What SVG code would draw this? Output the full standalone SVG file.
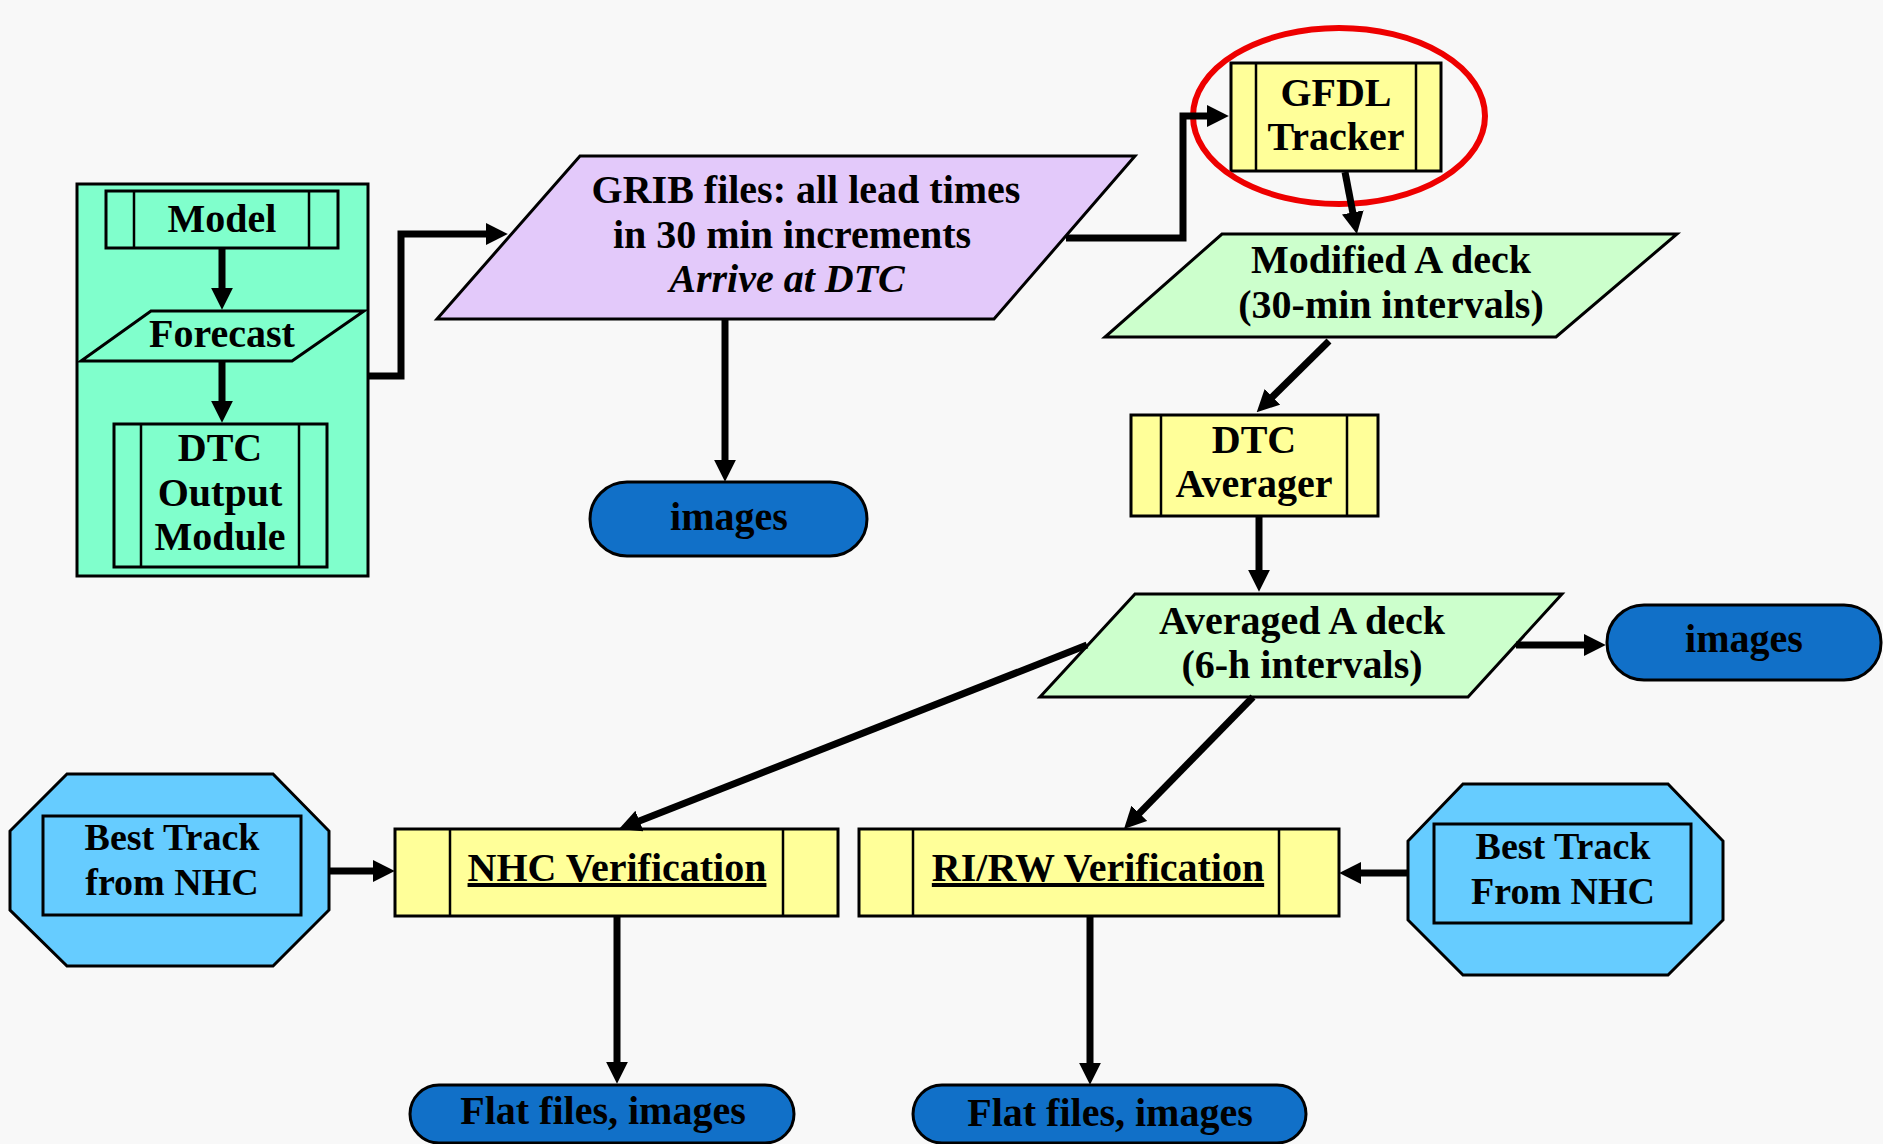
<svg xmlns="http://www.w3.org/2000/svg" width="1883" height="1144" viewBox="0 0 1883 1144">
<style>
  .t { font-family: "Liberation Serif", "Times New Roman", serif; font-weight: bold; font-size: 40px; fill: #000; text-anchor: middle; }
  .bt { font-size: 38px; }
  .it { font-style: italic; }
  .u { text-decoration: underline; }
  .box { stroke: #000; stroke-width: 3; }
  .ln { stroke: #000; stroke-width: 2.5; fill: none; }
  .aqua { fill: #80ffcc; }
  .yel { fill: #ffff99; }
  .lav { fill: #e3c9fa; }
  .grn { fill: #ccffcc; }
  .lblue { fill: #66ccff; }
  .dblue { fill: #1170c8; }
  .conn { stroke: #000; stroke-width: 7; fill: none; marker-end: url(#ah); }
</style>
<defs>
  <marker id="ah" viewBox="0 0 10 10" refX="1" refY="5" markerWidth="22" markerHeight="22" markerUnits="userSpaceOnUse" orient="auto">
    <path d="M0,0 L10,5 L0,10 z" fill="#000"/>
  </marker>
</defs>
<rect x="0" y="0" width="1883" height="1144" fill="#f8f8f8"/>

<g id="container">
  <rect class="box aqua" x="77" y="184" width="291" height="392"/>
</g>
<g id="model">
  <rect class="box aqua" x="106" y="191" width="232" height="57"/>
  <line class="ln" x1="134" y1="191" x2="134" y2="248"/>
  <line class="ln" x1="309" y1="191" x2="309" y2="248"/>
  <text class="t" x="222" y="232">Model</text>
</g>
<g id="forecast">
  <polygon class="box aqua" points="151,311 364,311 292,361 81,361"/>
  <text class="t" x="222" y="347">Forecast</text>
</g>
<g id="dtc-output">
  <rect class="box aqua" x="114" y="424" width="213" height="143"/>
  <line class="ln" x1="141" y1="424" x2="141" y2="567"/>
  <line class="ln" x1="299" y1="424" x2="299" y2="567"/>
  <text class="t" x="220" y="461">DTC</text>
  <text class="t" x="220" y="506">Output</text>
  <text class="t" x="220" y="550">Module</text>
</g>
<g id="grib">
  <polygon class="box lav" points="580,156 1135,156 994,319 437,319"/>
  <text class="t" x="806" y="203">GRIB files: all lead times</text>
  <text class="t" x="792" y="248">in 30 min increments</text>
  <text class="t it" x="787" y="292">Arrive at DTC</text>
</g>
<g id="images1">
  <rect class="box dblue" x="590" y="482" width="277" height="74" rx="37" ry="37"/>
  <text class="t" x="729" y="530">images</text>
</g>
<g id="gfdl">
  <rect class="box yel" x="1231" y="63" width="210" height="108"/>
  <line class="ln" x1="1256" y1="63" x2="1256" y2="171"/>
  <line class="ln" x1="1416" y1="63" x2="1416" y2="171"/>
  <text class="t" x="1336" y="106">GFDL</text>
  <text class="t" x="1336" y="150">Tracker</text>
</g>
<g id="highlight">
  <ellipse cx="1339" cy="116" rx="146" ry="88" fill="none" stroke="#ee0000" stroke-width="6"/>
</g>
<g id="modified">
  <polygon class="box grn" points="1222,234 1677,234 1556,337 1105,337"/>
  <text class="t" x="1391" y="273">Modified A deck</text>
  <text class="t" x="1391" y="318">(30-min intervals)</text>
</g>
<g id="averager">
  <rect class="box yel" x="1131" y="415" width="247" height="101"/>
  <line class="ln" x1="1161" y1="415" x2="1161" y2="516"/>
  <line class="ln" x1="1347" y1="415" x2="1347" y2="516"/>
  <text class="t" x="1254" y="453">DTC</text>
  <text class="t" x="1254" y="497">Averager</text>
</g>
<g id="averaged">
  <polygon class="box grn" points="1135,594 1562,594 1468,697 1040,697"/>
  <text class="t" x="1302" y="634">Averaged A deck</text>
  <text class="t" x="1302" y="678">(6-h intervals)</text>
</g>
<g id="images2">
  <rect class="box dblue" x="1607" y="605" width="274" height="75" rx="37" ry="37"/>
  <text class="t" x="1744" y="652">images</text>
</g>
<g id="besttrack-left">
  <polygon class="box lblue" points="67,774 273,774 329,831 329,910 273,966 67,966 10,910 10,831"/>
  <rect class="box lblue" x="43" y="816" width="258" height="99"/>
  <text class="t bt" x="172" y="850">Best Track</text>
  <text class="t bt" x="172" y="895">from NHC</text>
</g>
<g id="nhc-verif">
  <rect class="box yel" x="395" y="829" width="443" height="87"/>
  <line class="ln" x1="450" y1="829" x2="450" y2="916"/>
  <line class="ln" x1="783" y1="829" x2="783" y2="916"/>
  <text class="t u" x="617" y="881">NHC Verification</text>
</g>
<g id="rirw-verif">
  <rect class="box yel" x="859" y="829" width="480" height="87"/>
  <line class="ln" x1="913" y1="829" x2="913" y2="916"/>
  <line class="ln" x1="1279" y1="829" x2="1279" y2="916"/>
  <text class="t u" x="1098" y="881">RI/RW Verification</text>
</g>
<g id="besttrack-right">
  <polygon class="box lblue" points="1463,784 1668,784 1723,841 1723,920 1668,975 1463,975 1408,920 1408,841"/>
  <rect class="box lblue" x="1434" y="824" width="257" height="99"/>
  <text class="t bt" x="1563" y="859">Best Track</text>
  <text class="t bt" x="1563" y="904">From NHC</text>
</g>
<g id="flat1">
  <rect class="box dblue" x="410" y="1085" width="384" height="58" rx="29" ry="29"/>
  <text class="t" x="603" y="1124">Flat files, images</text>
</g>
<g id="flat2">
  <rect class="box dblue" x="913" y="1085" width="393" height="58" rx="29" ry="29"/>
  <text class="t" x="1110" y="1126">Flat files, images</text>
</g>

<g id="connectors">
  <path class="conn" d="M222,249 V290"/>
  <path class="conn" d="M222,362 V403"/>
  <path class="conn" d="M368,376 H401 V234 H488"/>
  <path class="conn" d="M725,319 V462"/>
  <path class="conn" d="M1066,238 H1183 V116 H1209"/>
  <path class="conn" d="M1345,172 L1353.2,214.6"/>
  <path class="conn" d="M1329,341 L1270.8,398.4"/>
  <path class="conn" d="M1259,516 V572"/>
  <path class="conn" d="M1516,645 H1586"/>
  <path class="conn" d="M1087,645 L637.4,821.8"/>
  <path class="conn" d="M1253,697 L1137.8,814.9"/>
  <path class="conn" d="M329,871 H375"/>
  <path class="conn" d="M1408,873 H1359"/>
  <path class="conn" d="M617,916 V1064"/>
  <path class="conn" d="M1090,916 V1065"/>
</g>
</svg>
